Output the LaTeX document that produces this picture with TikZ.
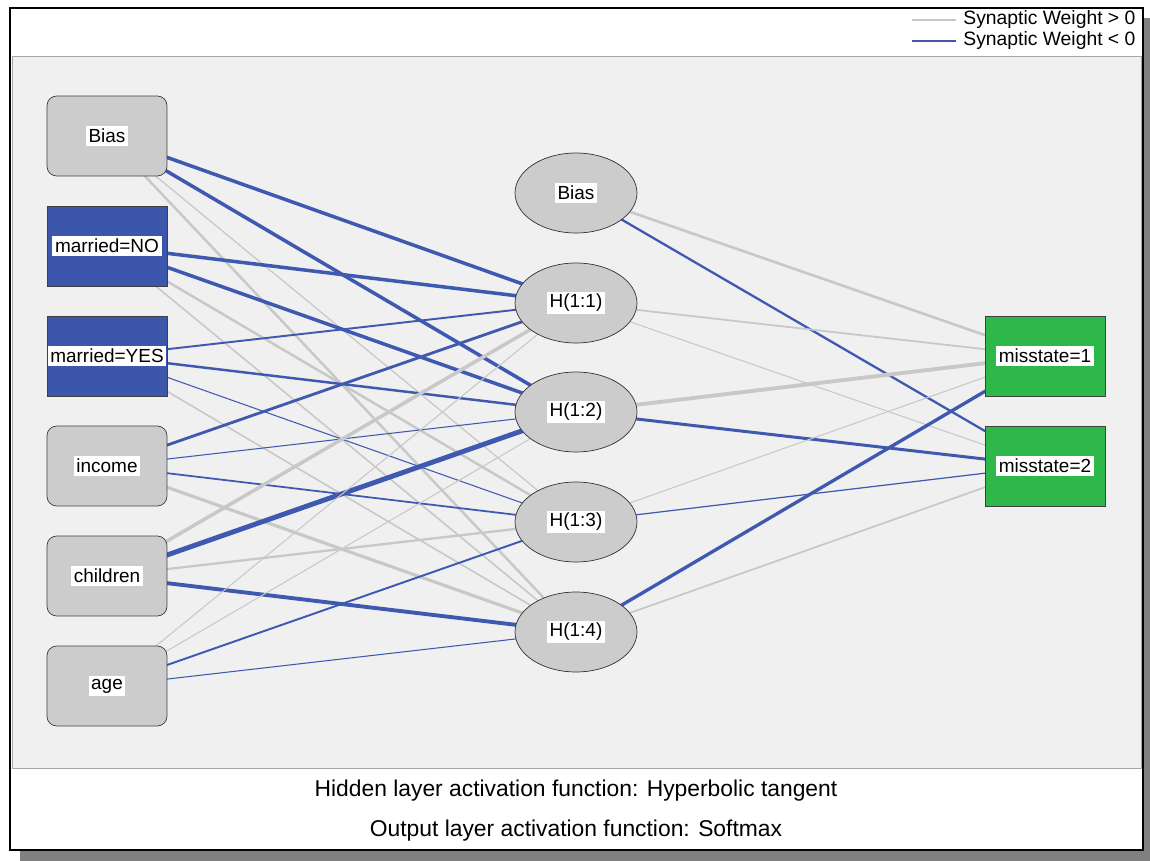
\documentclass[tikz,border=0pt]{standalone}
\usepackage{fontspec}
\setmainfont{Liberation Sans}
\usetikzlibrary{shapes.geometric}

\definecolor{negblue}{RGB}{63,88,176}
\definecolor{posgray}{RGB}{200,200,200}
\definecolor{nodegray}{RGB}{204,204,204}
\definecolor{nodeblue}{RGB}{60,86,172}
\definecolor{outgreen}{RGB}{46,184,74}
\definecolor{plotbg}{RGB}{240,240,240}
\definecolor{shadowgray}{RGB}{128,128,128}

\pgfdeclarelayer{back}
\pgfdeclarelayer{edges}
\pgfsetlayers{back,edges,main}

\newcommand{\wbox}[1]{{\setlength{\fboxsep}{1.5pt}\colorbox{white}{#1}}}

\begin{document}
\begin{tikzpicture}
      [x=0.02cm, y=-0.02cm,
        font=\fontsize{10.8}{12}\selectfont,
        unit/.style={draw=black!75, minimum width=2.4cm, minimum height=1.6cm, inner sep=0pt},
        inbox/.style={unit, fill=nodegray, rounded corners=5.5pt},
        catbox/.style={unit, fill=nodeblue},
        hidnode/.style={ellipse, draw=black!80, fill=nodegray, minimum width=2.44cm, minimum height=1.6cm, inner sep=0pt},
        outbox/.style={unit, fill=outgreen},
        note/.style={font=\fontsize{11}{13}\selectfont, inner sep=0pt},
        caption/.style={font=\fontsize{13}{15}\selectfont, inner sep=0pt}]
  \useasboundingbox (0,0) rectangle (1150,861);

  % frame, shadow and plot area
  \begin{pgfonlayer}{back}
    \fill[shadowgray] (20,18) rectangle (1150,861);
    \draw[black, line width=1.1pt, fill=white] (10,8) rectangle (1143,850);
    \draw[black!35, fill=plotbg] (12,56) rectangle (1141,768);
  \end{pgfonlayer}

  % input layer
  \node[inbox] (ib) at (107,136) {\wbox{Bias}};
  \node[catbox] (no) at (107,246) {\wbox{married=NO}};
  \node[catbox] (yes) at (107,356) {\wbox{married=YES}};
  \node[inbox] (inc) at (107,466) {\wbox{income}};
  \node[inbox] (ch) at (107,576) {\wbox{children}};
  \node[inbox] (age) at (107,686) {\wbox{age}};

  % hidden layer
  \node[hidnode] (hb) at (576,193) {\wbox{Bias}};
  \node[hidnode] (h1) at (576,303) {\wbox{H(1:1)}};
  \node[hidnode] (h2) at (576,412) {\wbox{H(1:2)}};
  \node[hidnode] (h3) at (576,522) {\wbox{H(1:3)}};
  \node[hidnode] (h4) at (576,632) {\wbox{H(1:4)}};

  % output layer
  \node[outbox] (o1) at (1045,356) {\wbox{misstate=1}};
  \node[outbox] (o2) at (1045,466) {\wbox{misstate=2}};

  % synaptic weights
  \begin{pgfonlayer}{edges}
    \foreach \a/\b/\c/\w in {ib/h1/negblue/2.0, ib/h2/negblue/2.0, ib/h3/posgray/0.7, ib/h4/posgray/1.4,
        no/h1/negblue/2.0, no/h2/negblue/2.0, no/h3/posgray/1.4, no/h4/posgray/0.9,
        yes/h1/negblue/1.1, yes/h2/negblue/1.4, yes/h3/negblue/0.6, yes/h4/posgray/0.9,
        inc/h1/negblue/1.6, inc/h2/negblue/0.6, inc/h3/negblue/1.0, inc/h4/posgray/1.8,
        ch/h1/posgray/2.0, ch/h2/negblue/2.8, ch/h3/posgray/1.3, ch/h4/negblue/2.2,
        age/h1/posgray/0.6, age/h2/posgray/0.6, age/h3/negblue/1.1, age/h4/negblue/0.6,
        hb/o1/posgray/1.5, hb/o2/negblue/1.3,
        h1/o1/posgray/1.0, h1/o2/posgray/0.6,
        h2/o1/posgray/2.2, h2/o2/negblue/1.7,
        h3/o1/posgray/0.6, h3/o2/negblue/0.7,
        h4/o1/negblue/1.9, h4/o2/posgray/1.0}
      \draw[draw=\c, line width=\w pt] (\a.center) -- (\b.center);
  \end{pgfonlayer}

  % legend
  \node[note, anchor=west] (lgpos) at (963,20) {Synaptic Weight > 0};
  \node[note, anchor=west] (lgneg) at (963,41) {Synaptic Weight < 0};
  \coordinate (lgposa) at (912,20);
  \coordinate (lgnega) at (912,41);
  \draw[posgray, line width=1pt] (lgposa) -- ([xshift=-4pt]lgpos.west);
  \draw[negblue, line width=1pt] (lgnega) -- ([xshift=-4pt]lgneg.west);

  % activation functions
  \node[caption] (hidact) at (576,791) {Hidden layer activation function: Hyperbolic tangent};
  \node[caption] (outact) at (576,831) {Output layer activation function: Softmax};
\end{tikzpicture}
\end{document}
